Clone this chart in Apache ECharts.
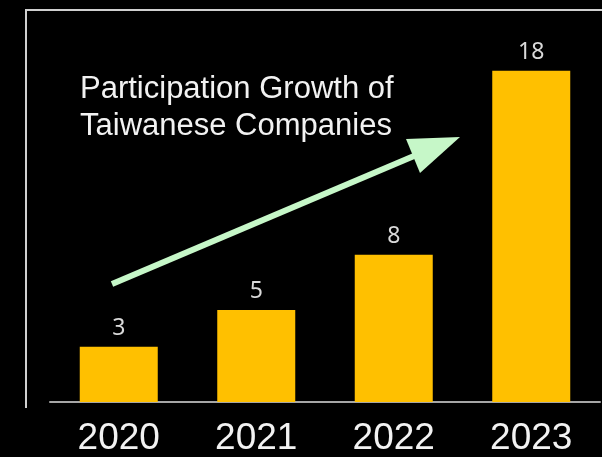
<!DOCTYPE html>
<html>
<head>
<meta charset="utf-8">
<script src="https://cdn.jsdelivr.net/npm/echarts@6/dist/echarts.min.js"></script>
<style>
  html, body { margin: 0; padding: 0; background: #000; }
  #chart { width: 602px; height: 457px; }
</style>
</head>
<body>
<div id="chart"></div>
<script>
// Taiwanese companies taking part, per year
const years = ['2020', '2021', '2022', '2023'];
const companies = [3, 5, 8, 18];
const headline = 'Participation Growth of\nTaiwanese Companies';

const chart = echarts.init(document.getElementById('chart'));

chart.setOption({
  backgroundColor: '#000000',
  animation: false,
  title: {
    text: headline,
    left: 75,
    top: 66,
    textStyle: {
      color: '#f2f2f2',
      fontFamily: 'Liberation Sans, Arial, sans-serif',
      fontWeight: 'normal',
      fontSize: 31,
      lineHeight: 37
    }
  },
  grid: { left: 50, right: 2, top: 34, bottom: 54 },
  xAxis: {
    type: 'category',
    data: years,
    axisLine: { lineStyle: { color: '#a6a6a6', width: 2 } },
    axisTick: { show: false },
    axisLabel: {
      color: '#f2f2f2',
      fontFamily: 'Liberation Sans, Arial, sans-serif',
      fontSize: 37,
      margin: 18
    }
  },
  yAxis: {
    type: 'value',
    min: 0,
    max: 20,
    show: false,
    splitLine: { show: false }
  },
  series: [{
    type: 'bar',
    data: companies,
    barWidth: 78,
    itemStyle: { color: '#FFC000' },
    label: {
      show: true,
      position: 'top',
      distance: 7,
      color: '#d9d9d9',
      fontFamily: 'Noto Sans, Open Sans, sans-serif',
      fontSize: 23
    }
  }],
  graphic: [
    // frame along the top and left edges
    {
      type: 'polyline',
      shape: { points: [[26, 408], [26, 10], [602, 10]] },
      style: { stroke: '#d0d0d0', lineWidth: 2, fill: null }
    },
    // growth arrow: shaft
    {
      type: 'line',
      shape: { x1: 112, y1: 284, x2: 414, y2: 156 },
      style: { stroke: '#c6f7c8', lineWidth: 6 }
    },
    // growth arrow: head
    {
      type: 'polygon',
      shape: { points: [[460, 137], [406, 139], [420, 173]] },
      style: { fill: '#c6f7c8' }
    }
  ]
});
</script>
</body>
</html>
